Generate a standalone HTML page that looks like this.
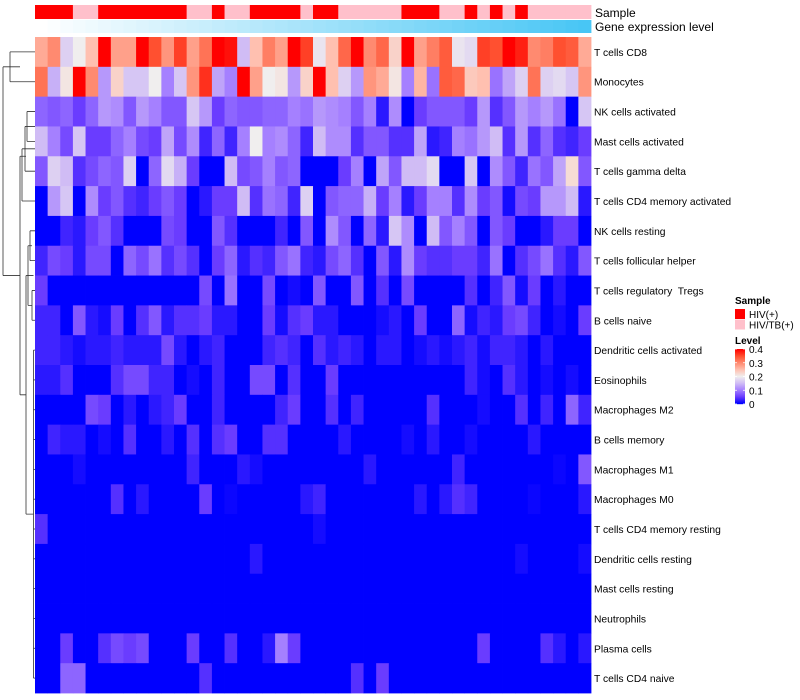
<!DOCTYPE html>
<html><head><meta charset="utf-8"><style>
body{margin:0;background:#fff;width:800px;height:700px;overflow:hidden;font-family:"Liberation Sans",sans-serif}
svg{position:absolute;left:0;top:0}
text{white-space:pre}
</style></head><body>
<svg id="chart" width="800" height="700" xmlns="http://www.w3.org/2000/svg"></svg>
<script>
const rowLabels=["T cells CD8","Monocytes","NK cells activated","Mast cells activated","T cells gamma delta","T cells CD4 memory activated","NK cells resting","T cells follicular helper","T cells regulatory  Tregs","B cells naive","Dendritic cells activated","Eosinophils","Macrophages M2","B cells memory","Macrophages M1","Macrophages M0","T cells CD4 memory resting","Dendritic cells resting","Mast cells resting","Neutrophils","Plasma cells","T cells CD4 naive"];
const sampleGroups=[1,1,1,0,0,1,1,1,1,1,1,1,0,0,1,0,0,1,1,1,1,0,1,1,0,0,0,0,0,1,1,1,0,0,1,0,1,0,1,0,0,0,0,0];
const z=()=>new Array(44).fill(0);
const r16=z();r16[0]=0.04;r16[22]=0.01;
const r17=z();r17[17]=0.02;r17[38]=0.01;r17[43]=0.01;
const r20=z();[[2,.05],[5,.04],[6,.06],[7,.05],[8,.06],[12,.05],[15,.04],[18,.02],[19,.1],[20,.05],[35,.05],[40,.04],[41,.02],[43,.02]].forEach(p=>r20[p[0]]=p[1]);
const r21=z();[[2,.08],[3,.08],[13,.04],[25,.04],[27,.05]].forEach(p=>r21[p[0]]=p[1]);
const values=[
[.27,.3,.17,.2,.25,.4,.28,.28,.4,.35,.29,.36,.28,.32,.4,.39,.15,.25,.31,.28,.4,.36,.19,.25,.33,.4,.3,.33,.23,.4,.28,.31,.34,.19,.18,.36,.35,.4,.38,.3,.31,.35,.34,.27],
[.32,.14,.21,.4,.3,.12,.23,.16,.16,.2,.1,.16,.29,.37,.13,.1,.4,.28,.2,.21,.12,.23,.4,.25,.17,.12,.29,.27,.21,.1,.26,.09,.34,.33,.24,.25,.09,.13,.17,.32,.17,.18,.16,.29],
[.08,.07,.08,.05,.08,.12,.11,.07,.12,.1,.07,.07,.16,.12,.05,.08,.07,.07,.08,.08,.1,.09,.12,.11,.1,.07,.1,.02,.11,0,.05,.07,.07,.07,.05,.12,.04,.07,.12,.1,.12,.09,0,.16],
[.15,.1,.06,.16,.05,.05,.08,.1,.06,.05,.13,.06,.11,.03,.08,.03,.1,.2,.1,.11,.08,.03,.15,.11,.11,.04,.07,.07,.04,.04,.13,.02,.03,.1,.09,.12,.15,.04,.12,.04,.08,.04,.03,.05],
[.07,.17,.15,.04,.06,.08,.07,.17,0,.08,.18,.14,.05,0,0,.15,.06,.07,.1,.07,.08,0,0,0,.05,.1,0,.13,.07,.15,.15,.18,0,0,.16,0,.11,.07,.03,.09,.07,.13,.22,.07],
[0,.12,.16,0,.11,.05,.07,.04,.03,.05,.07,.05,0,.02,.05,.05,.15,.04,.09,.08,.03,.17,0,.07,.08,.08,.14,.05,.1,.02,.05,.1,.1,.04,.11,.05,.07,.01,.06,.05,.12,.12,.15,.02],
[0,0,.03,.02,.05,.07,.04,0,0,0,.06,.05,0,0,.07,.04,0,0,0,.03,0,.07,0,.11,.07,0,.08,.02,.16,.11,0,.15,.07,.1,.07,0,.07,.05,0,0,.02,.05,.05,0],
[.03,.06,.05,.02,.06,.06,0,.08,.06,.09,.04,.06,.04,0,.05,.08,.02,.04,.03,.07,.09,.03,.02,.06,.08,.04,0,.07,.02,.11,.05,.04,.04,.05,.05,.03,.09,0,.04,.06,.09,.04,.02,.07],
[.05,0,0,0,0,0,0,0,0,0,0,0,0,.06,0,.09,0,0,.06,0,.01,0,.07,0,0,.07,0,.04,0,.06,0,0,0,0,.04,0,.03,.07,.01,.05,0,.02,0,0],
[.03,.03,0,.07,.02,.01,.05,0,.04,.07,.02,.04,.04,.05,.02,.02,0,0,.05,.01,.04,.05,.02,.02,0,0,0,.01,.02,0,.05,0,0,.08,.01,.03,.02,.05,.06,.03,0,.01,0,.05],
[.03,.03,.02,.01,.02,.02,.03,.02,.02,.02,.06,.02,0,.02,.03,0,0,0,.03,.04,.03,0,.04,.02,.03,.02,0,.02,.02,0,.01,.02,.01,.02,.03,.01,.03,.03,.02,0,.02,0,0,0],
[.02,.02,.04,0,0,0,.04,.06,.06,.03,.03,0,.01,0,.03,0,0,.06,.06,0,.04,0,0,.05,0,0,0,0,0,0,0,0,0,0,.03,.01,0,.04,.02,0,.01,0,.01,0],
[0,0,0,0,.06,.05,0,.02,0,.02,.03,.05,0,0,.03,0,0,0,0,.03,.05,0,0,.04,0,.03,0,0,0,0,0,.04,0,0,0,.01,0,0,.04,0,.03,0,.08,.03],
[0,.03,.02,.02,0,.01,0,.04,0,0,.02,0,.04,0,.04,.05,0,0,.04,.04,0,0,0,0,.02,0,0,0,0,.01,0,.02,0,0,.01,0,0,0,0,.02,0,0,0,0],
[0,0,0,.01,0,0,0,0,0,0,0,0,.03,0,0,0,.02,.01,0,0,0,0,0,0,0,0,.02,0,0,0,0,0,0,.03,0,0,0,0,0,0,0,.005,0,.07],
[0,0,0,0,0,0,.04,0,.02,0,0,0,0,.05,0,.005,0,0,0,0,0,.02,.03,0,0,0,0,0,0,0,.02,0,.02,.04,.03,0,0,0,0,.005,0,0,0,.02],
r16,r17,z(),z(),r20,r21];
const legendTicks=[0,0.1,0.2,0.3,0.4];
const sampleNames=["HIV/TB(+)","HIV(+)"];
const sampleColors=["#FFC0CB","#FF0000"];

const NS="http://www.w3.org/2000/svg";
const svg=document.getElementById('chart');
function el(t,a,p){const e=document.createElementNS(NS,t);for(const k in a)e.setAttribute(k,a[k]);(p||svg).appendChild(e);return e;}
const X0=35,X1=591,Y0=37,Y1=693,nC=44,nR=rowLabels.length;
const cw=(X1-X0)/nC,rh=(Y1-Y0)/nR;
const xs=c=>X0+c*cw, ys=r=>Y0+r*rh;
const stops=[[0,[0,0,255]],[.05,[106,60,255]],[.1,[165,128,255]],[.15,[208,188,245]],[.2,[240,238,238]],[.25,[255,192,176]],[.3,[255,138,112]],[.35,[255,80,48]],[.4,[255,0,0]]];
function col(v){v=Math.max(0,Math.min(.4,v));for(let i=0;i<stops.length-1;i++){const[a,ca]=stops[i],[b,cb]=stops[i+1];if(v<=b){const t=(v-a)/(b-a);return `rgb(${ca.map((x,j)=>Math.round(x+(cb[j]-x)*t)).join(',')})`;}}return 'rgb(255,0,0)';}
const cells=el('g',{});


values.forEach((row,r)=>row.forEach((v,c)=>{
 const e=el('rect',{x:xs(c),y:ys(r),width:cw+0.4,height:rh+0.4,fill:col(v)},cells);
 
 
}));
sampleGroups.forEach((g,c)=>{
 const e=el('rect',{x:xs(c),y:5,width:cw+0.4,height:14,fill:sampleColors[g]});
 
 
 const t=c/(nC-1);
 const g2=el('rect',{x:xs(c),y:20,width:cw+0.4,height:13,fill:`rgb(${Math.round(255-183*t)},${Math.round(255-57*t)},${Math.round(255-10*t)})`});
 
 
});
let t=el('text',{x:595,y:17,'font-size':12,fill:'#000'});t.textContent='Sample';

t=el('text',{x:595,y:31,'font-size':12,fill:'#000'});t.textContent='Gene expression level';

rowLabels.forEach((l,r)=>{const e=el('text',{x:594,y:ys(r)+rh/2+4,'font-size':10.3,fill:'#000'});e.textContent=l;
 });
const dg=el('g',{stroke:'#333','stroke-width':0.8,fill:'none'});

const yc=r=>ys(r)+rh/2;
function seg(x1,y1,x2,y2){el('path',{d:`M${x1} ${y1}H${x2}M${x1} ${y2}H${x2}M${x1} ${y1}V${y2}`},dg);}
seg(10,yc(0),35,yc(1));
seg(27,yc(2),35,yc(3));seg(25,(yc(2)+yc(3))/2,35,yc(4));seg(22,(yc(2)+yc(3)+2*yc(4))/4,35,yc(5));
seg(30,yc(6),35,yc(7));seg(32,yc(8),35,yc(9));seg(28,(yc(6)+yc(7))/2,32,(yc(8)+yc(9))/2);
for(let r=11;r<22;r++){el('path',{d:`M33.5 ${yc(r)}H35`},dg);}
el('path',{d:`M33.5 ${yc(10)}V${yc(21)}M33.5 ${yc(10)}H35`},dg);
const lowMid=(yc(10)+yc(21))/2,midMid=(yc(6)+yc(9))/2;
seg(26,midMid,33.5,lowMid);
const aMid=(yc(2)+yc(5))/2,bMid=(midMid+lowMid)/2;
seg(20,aMid,26,bMid);
seg(3,(yc(0)+yc(1))/2,20,(aMid+bMid)/2);
t=el('text',{x:735,y:304,'font-size':10,'font-weight':'bold'});t.textContent='Sample';

[1,0].forEach((g,i)=>{const r=el('rect',{x:735,y:309+i*10.5,width:10,height:10,fill:sampleColors[g]});
 
 const e=el('text',{x:749,y:318+i*10.5,'font-size':10});e.textContent=sampleNames[g];
 });
t=el('text',{x:735,y:344,'font-size':10,'font-weight':'bold'});t.textContent='Level';

const by0=349,by1=404;
for(let i=0;i<55;i++){const v=0.4*(1-i/54);el('rect',{x:735,y:by0+i,width:10,height:1.2,fill:col(v)});}
legendTicks.forEach(v=>{const y=by1-(v/0.4)*(by1-by0);
 el('path',{d:`M735 ${y}h2M743 ${y}h2`,stroke:'#fff','stroke-width':0.8});
 const e=el('text',{x:749,y:y+4,'font-size':10});e.textContent=String(v);
 });
</script>
</body></html>
